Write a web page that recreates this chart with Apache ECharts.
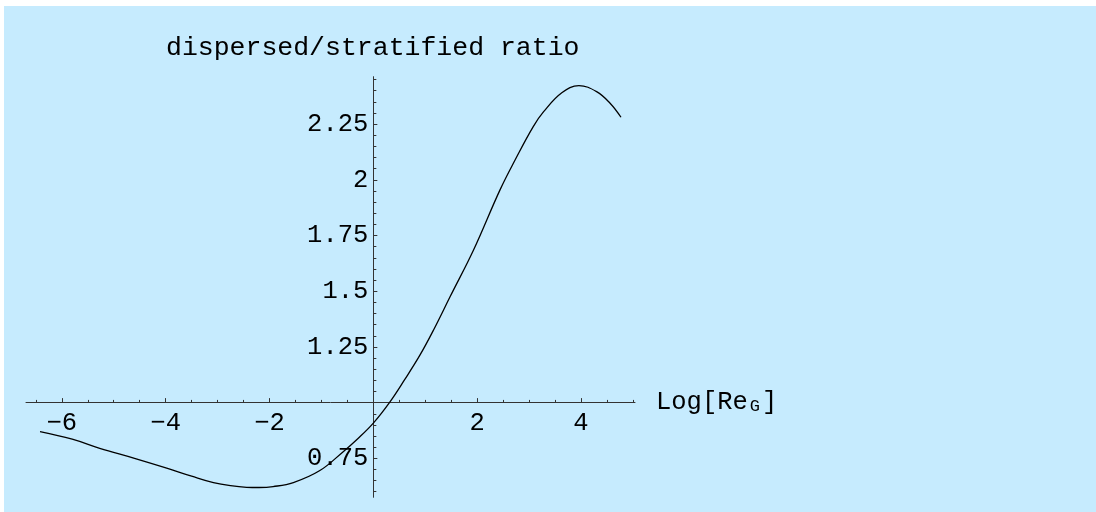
<!DOCTYPE html>
<html>
<head>
<meta charset="utf-8">
<script src="https://cdn.jsdelivr.net/npm/echarts@6/dist/echarts.min.js"></script>
<style>
  html, body { margin: 0; padding: 0; background: #ffffff; }
  #chart { position: absolute; left: 4px; top: 6px; width: 1092px; height: 506px; }
</style>
</head>
<body>
<div id="chart"></div>
<script>
// Curve samples: Log[Re_G] and the dispersed/stratified ratio
const logRe = [-6.42, -5.8, -5.27, -4.6, -3.98, -3.5, -3.08, -2.75, -2.44, -2.2, -1.93, -1.54, -1.03, -0.58, -0.3, 0, 0.31, 0.6, 0.9, 1.16, 1.48, 1.93, 2.44, 2.73, 3.08, 3.28, 3.63, 3.96, 4.3, 4.56, 4.77];
const ratio = [0.870, 0.836, 0.795, 0.750, 0.706, 0.670, 0.641, 0.627, 0.620, 0.619, 0.623, 0.641, 0.695, 0.780, 0.838, 0.908, 1.0, 1.102, 1.214, 1.326, 1.476, 1.685, 1.955, 2.089, 2.239, 2.306, 2.391, 2.423, 2.396, 2.344, 2.281];

// Tick marks and labels
const xMajorTicks = [-6, -4, -2, 2, 4];
const xMinorTicks = [-6.5, -5.5, -5, -4.5, -3.5, -3, -2.5, -1.5, -1, -0.5, 0.5, 1, 1.5, 2.5, 3, 3.5, 4.5, 5];
const yMajorTicks = [0.75, 1.25, 1.5, 1.75, 2, 2.25];
const yMinorTicks = [0.6, 0.65, 0.7, 0.8, 0.85, 0.9, 0.95, 1.05, 1.1, 1.15, 1.2, 1.3, 1.35, 1.4, 1.45, 1.55, 1.6, 1.65, 1.7, 1.8, 1.85, 1.9, 1.95, 2.05, 2.1, 2.15, 2.2, 2.3, 2.35, 2.4, 2.45];

const titleText = 'dispersed/stratified ratio';
const xName = 'Log[Re{sub|G}]';

// Plot extents and the point where the axes cross
const xExtent = [-6.69, 5.04];
const yExtent = [0.575, 2.463];
const crossX = 0;
const crossY = 1;

const FONT = 'Liberation Mono, DejaVu Sans Mono, monospace';
const AXIS_COLOR = '#333333';

const fmtNum = v => (v < 0 ? '\u2212' + String(-v) : String(v));

const option = {
  animation: false,
  backgroundColor: '#c6ebfe',
  title: {
    text: titleText,
    left: 162,
    top: 28,
    padding: 0,
    textStyle: { fontFamily: FONT, fontSize: 26.5, fontWeight: 'normal', color: '#000' }
  },
  grid: { left: 22, right: 461, top: 70.7, bottom: 14.7, containLabel: false, outerBoundsMode: 'none' },
  xAxis: [
    {
      type: 'value', position: 'bottom', min: xExtent[0], max: xExtent[1],
      axisLine: { show: true, onZero: false, lineStyle: { color: AXIS_COLOR, width: 1 } },
      axisTick: { show: true, inside: true, length: 4.5, customValues: xMajorTicks, lineStyle: { color: AXIS_COLOR, width: 1 } },
      axisLabel: { show: true, customValues: xMajorTicks, margin: 8, formatter: fmtNum,
                   fontFamily: FONT, fontSize: 25.5, color: '#000' },
      splitLine: { show: false },
      name: xName, nameLocation: 'end', nameGap: 21,
      nameTextStyle: {
        fontFamily: FONT, fontSize: 25.5, lineHeight: 25, color: '#000', verticalAlign: 'middle', align: 'left',
        rich: { sub: { fontFamily: FONT, fontSize: 17, lineHeight: 10, color: '#000', verticalAlign: 'bottom', padding: [0, 2, 0, 2] } }
      }
    },
    {
      type: 'value', position: 'top', min: xExtent[0], max: xExtent[1],
      axisLine: { show: false, onZero: false },
      axisTick: { show: true, inside: false, length: 2.7, customValues: xMinorTicks, lineStyle: { color: AXIS_COLOR, width: 1 } },
      axisLabel: { show: false },
      splitLine: { show: false }
    }
  ],
  yAxis: [
    {
      type: 'value', position: 'left', min: yExtent[0], max: yExtent[1],
      axisLine: { show: true, onZero: false, lineStyle: { color: AXIS_COLOR, width: 1 } },
      axisTick: { show: true, inside: true, length: 4, customValues: yMajorTicks, lineStyle: { color: AXIS_COLOR, width: 1 } },
      axisLabel: { show: true, customValues: yMajorTicks, margin: 5, formatter: fmtNum,
                   fontFamily: FONT, fontSize: 25.5, color: '#000' },
      splitLine: { show: false }
    },
    {
      type: 'value', position: 'right', min: yExtent[0], max: yExtent[1],
      axisLine: { show: false, onZero: false },
      axisTick: { show: true, inside: false, length: 3, customValues: yMinorTicks, lineStyle: { color: AXIS_COLOR, width: 1 } },
      axisLabel: { show: false },
      splitLine: { show: false }
    }
  ],
  series: [
    {
      type: 'line',
      xAxisIndex: 0, yAxisIndex: 0,
      data: logRe.map((x, i) => [x, ratio[i]]),
      smooth: 0.4,
      showSymbol: false,
      symbol: 'none',
      lineStyle: { color: '#000', width: 1.3 },
      z: 5
    }
  ]
};

const chart = echarts.init(document.getElementById('chart'), null, { renderer: 'canvas' });
chart.setOption(option);

// Shift the axes so they cross at (crossX, crossY)
const xPix = chart.convertToPixel({ xAxisIndex: 0 }, crossX);
const yPix = chart.convertToPixel({ yAxisIndex: 0 }, crossY);
const w = chart.getWidth();
const h = chart.getHeight();
const gridLeft = option.grid.left;
const gridRight = w - option.grid.right;
const gridTop = option.grid.top;
const gridBottom = h - option.grid.bottom;
chart.setOption({
  xAxis: [
    { offset: yPix - gridBottom },
    { offset: gridTop - yPix }
  ],
  yAxis: [
    { offset: gridLeft - xPix },
    { offset: xPix - gridRight }
  ]
});
</script>
</body>
</html>
